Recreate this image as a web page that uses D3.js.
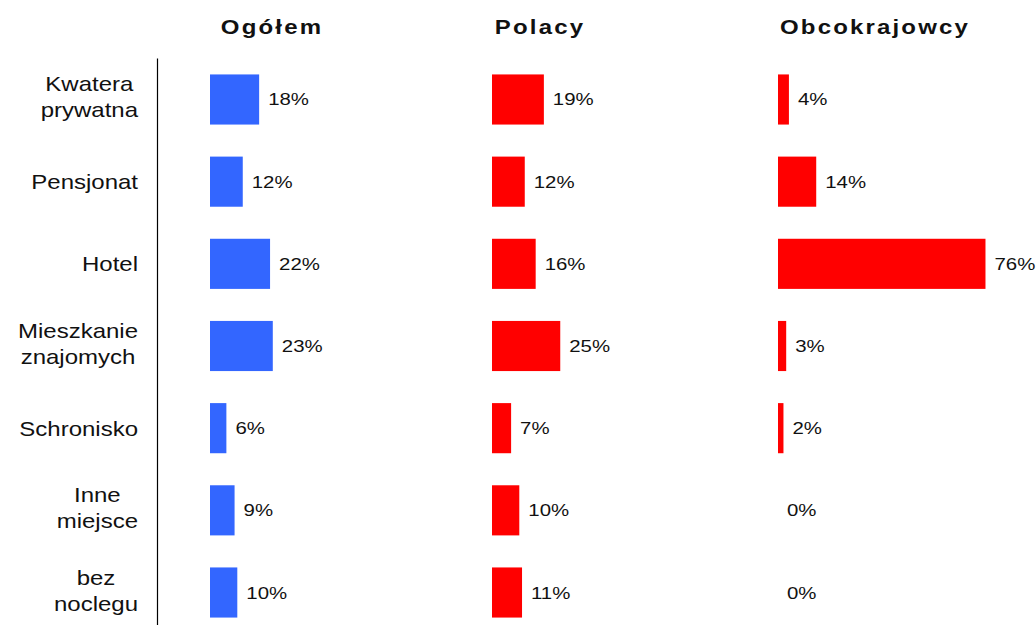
<!DOCTYPE html>
<html>
<head>
<meta charset="utf-8">
<script src="https://cdn.jsdelivr.net/npm/d3@7"></script>
<style>
  body { margin: 0; background: #fff; }
  svg { display: block; }
  text { font-family: "Liberation Sans", Arial, sans-serif; fill: #111; }
</style>
</head>
<body>
<script>
var w = 1036,
    h = 625;

// data
var categories = ["Kwatera prywatna", "Pensjonat", "Hotel", "Mieszkanie znajomych", "Schronisko", "Inne miejsce", "bez noclegu"];
var categoryLines = [["Kwatera", "prywatna"], ["Pensjonat"], ["Hotel"], ["Mieszkanie", "znajomych"], ["Schronisko"], ["Inne", "miejsce"], ["bez", "noclegu"]];
var seriesNames = ["Ogółem", "Polacy", "Obcokrajowcy"];
var ogolem = [18, 12, 22, 23, 6, 9, 10];
var polacy = [19, 12, 16, 25, 7, 10, 11];
var obcokrajowcy = [4, 14, 76, 3, 2, 0, 0];
var seriesValues = [ogolem, polacy, obcokrajowcy];

// layout
var panelX = [210, 492, 778];
var titleX = [272, 540, 875];
var panelColors = ["#3366ff", "#ff0000", "#ff0000"];
var sx = 1.2; // the original text is a little stretched

var svg = d3.select("body").append("svg")
  .attr("width", w)
  .attr("height", h);

var y = d3.scaleBand()
  .domain(categories)
  .range([58, 634])
  .paddingInner(0.39)
  .paddingOuter(0.2);

var x = d3.scaleLinear()
  .domain([0, 100])
  .range([0, 273]);

// left axis line
svg.append("g")
  .attr("transform", "translate(157,0)")
  .call(d3.axisLeft(y).tickSize(0).tickSizeOuter(0).tickFormat(""))
  .call(function(g) { g.select(".domain").attr("stroke", "#000").attr("stroke-width", 1.2); });

// category labels: lines centred, whole block right-aligned
var cat = svg.selectAll("g.cat").data(categories)
  .enter().append("g")
  .attr("class", "cat");

cat.each(function(d, i) {
  var lines = categoryLines[i];
  var cy = y(d) + y.bandwidth() / 2;
  var offs = lines.length == 1 ? [7.5] : [-8, 18];
  var g = d3.select(this);
  var t = g.selectAll("text").data(lines)
    .enter().append("text")
    .text(function(s) { return s; })
    .attr("text-anchor", "middle")
    .attr("font-size", "20px")
    .attr("transform", function(s, j) {
      return "translate(0," + (cy + offs[j]) + ") scale(" + sx + ",1)";
    });
  var maxW = d3.max(t.nodes(), function(n) { return n.getComputedTextLength(); }) * sx;
  g.attr("transform", "translate(" + (138 - maxW / 2) + ",0)");
});

// titles
svg.selectAll("text.title").data(seriesNames)
  .enter().append("text")
  .attr("class", "title")
  .text(function(d) { return d; })
  .attr("text-anchor", "middle")
  .attr("font-size", "20px")
  .attr("font-weight", "bold")
  .attr("letter-spacing", "1.8px")
  .attr("transform", function(d, i) {
    return "translate(" + titleX[i] + ",34) scale(" + sx + ",1)";
  });

// panels
seriesValues.forEach(function(vals, p) {
  var g = svg.append("g")
    .attr("transform", "translate(" + panelX[p] + ",0)");

  g.selectAll("rect").data(vals)
    .enter().append("rect")
    .attr("x", 0)
    .attr("y", function(d, i) { return y(categories[i]); })
    .attr("width", function(d) { return x(d); })
    .attr("height", y.bandwidth())
    .attr("fill", panelColors[p]);

  g.selectAll("text").data(vals)
    .enter().append("text")
    .text(function(d) { return d + "%"; })
    .attr("font-size", "17px")
    .attr("transform", function(d, i) {
      return "translate(" + (x(d) + 9) + "," + (y(categories[i]) + y.bandwidth() / 2 + 6) + ") scale(" + sx + ",1)";
    });
});
</script>
</body>
</html>
